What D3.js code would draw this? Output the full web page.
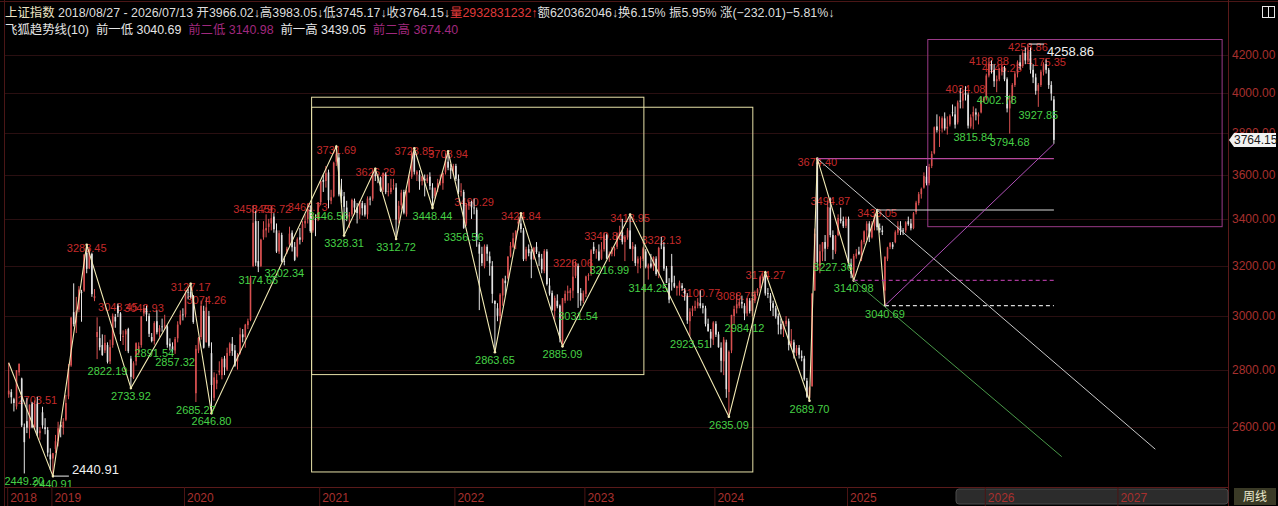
<!DOCTYPE html>
<html>
<head>
<meta charset="utf-8">
<script src="https://cdn.jsdelivr.net/npm/d3@7"></script>
<style>
  html, body { margin: 0; padding: 0; background: #000; }
  svg { display: block; }
  text { font-family: "Liberation Sans", Arial, "Noto Sans CJK SC", sans-serif; }
  .cjk { font-family: "Liberation Sans", "Noto Sans CJK SC", sans-serif; }
</style>
</head>
<body>
<div class="canvas"></div>
<script>
// weekly candles [open, high, low, close], one array per calendar year
const k2018 = [[2712,2825,2700,2725],[2720,2730,2680,2702],[2695,2700,2653,2682],[2670,2798,2660,2797],[2790,2822,2778,2821],
  [2768,2771,2600,2606],[2600,2612,2449.20,2550],[2620,2700,2580,2598],[2595,2677,2562,2676],[2680,2686,2596,2599],
  [2600,2691,2593,2679],[2680,2703.51,2570,2579],[2580,2600,2558,2588],[2650,2669,2595,2606],[2600,2630,2576,2593],
  [2590,2600,2503,2516],[2510,2530,2460,2494]];
const k2019 = [[2497,2515,2440.91,2514],[2528,2574,2515,2553],[2554,2618,2536,2596],[2608,2618,2566,2601],[2597,2630,2575,2618],
  [2625,2710,2620,2682],[2705,2820,2695,2804],[2815,2997,2810,2994],[3015,3129,2960,2969],[2975,3075,2935,3021],
  [3025,3118,3015,3104],[3095,3103,2978,3091],[3100,3250,3095,3247],[3255,3288.45,3170,3188],[3190,3274,3187,3270],
  [3250,3255,3075,3086],[3070,3106,3058,3078],[2920,2995,2838,2939],[2916,2960,2870,2882],[2890,2930,2850,2853],
  [2870,2928,2860,2898],[2890,2900,2822.19,2828],[2830,2910,2820,2882],[2890,3010,2880,3001],[2997,3008,2955,2979],
  [3040,3048.45,2996,3011],[3010,3015,2905,2930],[2920,2945,2890,2924],[2930,2950,2868,2944],[2950,2955,2860,2867],
  [2840,2850,2733.92,2774],[2770,2830,2766,2823],[2830,2900,2815,2897],[2865,2900,2852,2886],[2890,3000,2880,2999],
  [3010,3042.93,3000,3031],[3030,3040,2980,3006],[3000,3010,2920,2932],[2920,2935,2900,2905],[2905,2980,2891.54,2973],
  [2980,3022,2930,2938],[2940,2965,2920,2954],[2960,2990,2940,2958],[2960,3005,2950,2964],[2960,2965,2880,2891],
  [2895,2915,2870,2885],[2885,2900,2862,2871],[2870,2920,2857.32,2912],[2915,2980,2900,2967],[2970,3022,2965,3005],
  [3006,3030,2983,3005]];
const k2020 = [[3006,3098,2995,3092],[3095,3107,3065,3092],[3095,3127.17,3068,3075],[3080,3082,2970,2977],
  [2716,2890,2685.27,2876],[2870,2920,2860,2917],[2920,3060,2910,3040],[3020,3040,2877,2880],[2900,3074.26,2900,3034],
  [3000,3020,2880,2887],[2860,2900,2646.80,2745],[2700,2790,2690,2772],[2750,2785,2730,2763],[2790,2830,2780,2796],
  [2780,2845,2765,2838],[2840,2850,2780,2808],[2800,2880,2795,2860],[2860,2900,2850,2895],[2895,2920,2850,2868],
  [2870,2890,2810,2814],[2830,2860,2800,2852],[2860,2955,2855,2930],[2930,2950,2900,2919],[2920,2970,2880,2967],
  [2965,2990,2950,2980],[2985,3160,2980,3152],[3200,3458.79,3195,3383],[3390,3436,3200,3214],[3220,3391,3174.66,3197],
  [3200,3314,3195,3310],[3320,3390,3310,3354],[3350,3420,3320,3360],[3365,3400,3340,3380],[3380,3456.72,3350,3403],
  [3410,3425,3340,3355],[3350,3380,3254,3260],[3260,3350,3250,3338],[3330,3340,3215,3219],[3220,3240,3202.34,3218],
  [3260,3280,3250,3272],[3290,3366,3280,3336],[3340,3350,3260,3278],[3280,3300,3220,3225],[3240,3320,3235,3312],
  [3320,3360,3290,3310],[3310,3390,3300,3377],[3380,3420,3360,3391],[3400,3465.73,3380,3444],[3440,3460,3340,3347],
  [3350,3420,3340,3394],[3400,3420,3325,3396],[3400,3474,3390,3473]];
const k2021 = [[3474,3570,3460,3570],[3575,3600,3520,3566],[3570,3640,3540,3606],[3610,3623,3446.56,3483],
  [3480,3530,3465,3496],[3500,3660,3495,3655],[3660,3731.69,3640,3696],[3680,3700,3500,3509],[3530,3580,3470,3502],
  [3500,3520,3328.31,3453],[3450,3480,3390,3405],[3410,3430,3360,3418],[3420,3490,3410,3484],[3480,3490,3420,3450],
  [3450,3470,3380,3426],[3420,3480,3400,3474],[3470,3480,3415,3447],[3460,3470,3410,3419],[3420,3500,3400,3490],
  [3490,3500,3460,3486],[3490,3620,3480,3600],[3600,3626.29,3570,3592],[3590,3600,3560,3589],[3585,3590,3520,3525],
  [3530,3610,3520,3607],[3600,3610,3510,3519],[3520,3560,3500,3524],[3520,3580,3510,3539],[3550,3580,3530,3550],
  [3540,3560,3312.72,3397],[3400,3480,3380,3458],[3460,3530,3440,3517],[3520,3530,3420,3427],[3420,3530,3410,3522],
  [3520,3600,3515,3581],[3590,3710,3580,3703],[3700,3723.85,3600,3613],[3600,3620,3570,3613],[3600,3620,3530,3568],
  [3570,3592,3550,3592],[3580,3600,3500,3572],[3570,3600,3560,3583],[3590,3610,3530,3547],[3540,3560,3448.44,3491],
  [3500,3540,3490,3539],[3540,3580,3520,3560],[3560,3600,3550,3564],[3560,3610,3530,3607],[3610,3700,3600,3666],
  [3660,3708.94,3620,3632],[3630,3650,3580,3618],[3620,3650,3600,3640]];
const k2022 = [[3640,3650,3570,3580],[3580,3600,3510,3521],[3520,3560,3500,3523],[3520,3530,3356.56,3361],
  [3380,3470,3370,3462],[3460,3485,3440,3475],[3475,3480,3400,3451],[3450,3490.29,3420,3447],[3440,3450,3280,3309],
  [3290,3300,3023,3251],[3250,3280,3200,3212],[3200,3290,3190,3282],[3280,3290,3220,3251],[3240,3260,3160,3211],
  [3200,3220,3050,3087],[3060,3060,2863.65,3047],[3030,3050,2980,3001],[3000,3090,2970,3084],[3080,3150,3040,3146],
  [3140,3160,3080,3130],[3150,3240,3145,3239],[3240,3300,3235,3284],[3280,3340,3275,3316],[3310,3350,3270,3349],
  [3380,3410,3350,3388],[3380,3424.84,3340,3356],[3350,3360,3220,3228],[3230,3280,3220,3269],[3270,3290,3240,3253],
  [3260,3270,3150,3227],[3230,3280,3225,3276],[3280,3300,3250,3258],[3250,3260,3200,3236],[3230,3250,3170,3186],
  [3180,3270,3170,3262],[3260,3270,3120,3126],[3120,3150,3080,3088],[3090,3100,3020,3024],[3020,3080,2980,3071],
  [3060,3085,3030,3038],[3040,3045,2900,2915],[2900,3070,2885.09,3070],[3060,3100,3050,3087],[3090,3120,3060,3097],
  [3090,3110,3060,3101],[3100,3226.06,3070,3156],[3160,3220,3150,3206],[3200,3210,3031.54,3090],[3090,3110,3040,3060],
  [3060,3100,3050,3089]];
const k2023 = [[3087,3160,3074,3157],[3160,3170,3140,3163],[3170,3270,3160,3265],[3280,3300,3250,3263],
  [3260,3270,3230,3260],[3260,3290,3220,3224],[3230,3300,3225,3268],[3270,3340.85,3260,3328],[3330,3336,3230,3230],
  [3240,3260,3216.99,3250],[3250,3280,3240,3265],[3265,3280,3240,3273],[3280,3340,3270,3327],[3330,3370,3310,3338],
  [3340,3400,3290,3301],[3300,3330,3220,3323],[3320,3360,3310,3350],[3350,3418.95,3270,3272],[3270,3300,3220,3283],
  [3280,3290,3200,3212],[3210,3240,3170,3230],[3230,3240,3190,3231],[3230,3280,3220,3273],[3260,3270,3190,3197],
  [3190,3210,3144.25,3202],[3210,3250,3190,3197],[3200,3240,3180,3237],[3230,3240,3160,3167],[3170,3280,3150,3275],
  [3290,3322.13,3270,3288],[3280,3300,3180,3189],[3190,3200,3130,3131],[3130,3150,3050,3064],[3200,3250,3100,3133],
  [3130,3160,3110,3116],[3110,3120,3080,3117],[3110,3140,3080,3132],[3120,3130,3100,3110],[3100,3110,3060,3088],
  [3080,3090,2970,2983],[2980,3030,2923.51,3017],[3020,3040,3000,3030],[3030,3060,3020,3038],[3040,3070,3030,3054],
  [3050,3100.77,3030,3040],[3040,3050,3010,3032],[3030,3040,2960,2970],[2970,2990,2940,2942],[2940,2950,2880,2914],
  [2910,2980,2890,2975]];
const k2024 = [[2970,2980,2920,2929],[2930,2940,2880,2882],[2880,2900,2790,2832],[2830,2920,2780,2910],
  [2900,2910,2700,2730],[2720,2870,2635.09,2865],[2870,3005,2860,3004],[3000,3040,2970,3027],[3030,3088.75,3010,3046],
  [3040,3070,3030,3054],[3055,3080,3030,3048],[3040,3050,2984.12,3010],[3010,3070,3000,3069],[3060,3070,3010,3019],
  [3020,3070,3000,3065],[3060,3100,3050,3088],[3090,3110,3080,3105],[3110,3160,3100,3154],[3150,3170,3130,3154],
  [3160,3174.27,3080,3089],[3090,3110,3070,3086],[3080,3090,3020,3051],[3050,3060,3000,3032],[3030,3040,2990,2998],
  [3000,3010,2930,2967],[2970,2990,2930,2949],[2950,2980,2920,2971],[2970,3000,2960,2982],[2980,2990,2870,2890],
  [2890,2950,2880,2905],[2900,2910,2840,2862],[2860,2890,2850,2879],[2880,2890,2840,2854],[2850,2870,2830,2842],
  [2840,2850,2760,2765],[2760,2770,2700,2704],[2700,2740,2689.70,2736],[2740,3090,2740,3088],[3100,3358,3100,3336],
  [3670,3674.40,3180,3217],[3200,3290,3170,3261],[3260,3300,3220,3299],[3300,3330,3220,3272],[3280,3480,3270,3452],
  [3450,3494.87,3320,3330],[3330,3350,3227.36,3267],[3260,3330,3250,3326],[3330,3420,3325,3404],[3400,3450,3380,3391],
  [3390,3410,3360,3368],[3370,3410,3360,3400]];
const k2025 = [[3400,3410,3200,3211],[3210,3230,3150,3168],[3160,3250,3140.98,3241],[3240,3270,3230,3252],
  [3260,3280,3245,3250],[3230,3310,3220,3303],[3300,3350,3290,3346],[3350,3390,3310,3379],[3380,3390,3300,3321],
  [3320,3390,3315,3372],[3370,3420,3350,3419],[3420,3439.05,3350,3364],[3360,3380,3340,3351],[3350,3370,3330,3343],
  [3100,3240,3040.69,3238],[3230,3280,3220,3277],[3280,3300,3270,3296],[3290,3300,3270,3280],[3300,3350,3295,3342],
  [3340,3390,3330,3367],[3370,3390,3330,3348],[3350,3360,3330,3347],[3350,3390,3340,3385],[3390,3410,3370,3377],
  [3380,3400,3350,3359],[3360,3430,3355,3424],[3430,3480,3420,3472],[3470,3520,3460,3510],[3510,3540,3490,3534],
  [3540,3610,3535,3593],[3590,3640,3550,3560],[3560,3650,3550,3635],[3640,3710,3630,3697],[3700,3830,3695,3826],
  [3830,3890,3800,3812],[3810,3880,3730,3812],[3820,3880,3800,3871],[3870,3900,3810,3820],[3820,3880,3790,3828],
  [3840,3890,3830,3883],[3900,3940,3880,3897],[3890,3930,3820,3839],[3850,3960,3840,3950],[3960,4025,3920,3954],
  [3960,4010,3920,3997],[4000,4034.08,3960,3990],[3990,4000,3820,3834],[3830,3890,3820,3875],[3880,3930,3815.84,3902],
  [3900,3920,3860,3889],[3880,3900,3840,3890],[3900,3980,3895,3963],[3960,3980,3950,3969]];
const k2026 = [[3970,4100,3960,4090],[4090,4182.88,4080,4150],[4150,4170,4100,4120],[4120,4150,4030,4060],
  [4060,4090,4002.78,4070],[4070,4130,4060,4110],[4110,4145.23,4090,4130],[4130,4140,4060,4070],[4070,4080,3900,3920],
  [3920,3990,3794.68,3960],[3960,4050,3950,4040],[4040,4110,4030,4100],[4100,4170,4080,4160],[4160,4200,4120,4140],
  [4140,4220,4130,4210],[4210,4240,4150,4170],[4170,4258.86,4160,4220],[4220,4240,4100,4120],[4120,4150,4050,4080],
  [4080,4100,3990,4010],[4010,4050,3927.85,4040],[4040,4120,4030,4110],[4110,4160,4090,4150],[4150,4175.35,4100,4120],
  [4120,4130,4020,4040],[4040,4060,3960,3996.16],[3966.02,3983.05,3745.17,3764.15]];

const years = ["2018","2019","2020","2021","2022","2023","2024","2025","2026"];
const yearCandles = [k2018,k2019,k2020,k2021,k2022,k2023,k2024,k2025,k2026];
const weeksLeft2026 = 24;   // empty weeks on the axis before 2027
const nextYear = "2027";

const priceTicks = [2600,2800,3000,3200,3400,3600,3800,4000,4200];

// zigzag pivots [week index, price]
const zigzag = [[0,2825],[17,2440.91],[30,3288.45],[47,2733.92],[70,3127.17],[78,2646.80],[126,3731.69],[129,3328.31],
  [141,3626.29],[149,3312.72],[156,3723.85],[163,3448.44],[169,3708.94],[187,2863.65],[197,3424.84],[213,2885.09],
  [239,3418.95],[277,2635.09],[291,3174.27],[308,2689.70],[311,3674.40],[325,3140.98],[334,3439.05],[337,3040.69]];
// labelled swing highs / lows [week index, price]
const highMarks = [[11,2703.51],[30,3288.45],[42,3048.45],[52,3042.93],[70,3127.17],[76,3074.26],[94,3458.79],
  [101,3456.72],[115,3465.73],[126,3731.69],[141,3626.29],[156,3723.85],[169,3708.94],[179,3490.29],[197,3424.84],
  [217,3226.06],[229,3340.85],[239,3418.95],[251,3322.13],[266,3100.77],[280,3088.75],[291,3174.27],[311,3674.40],
  [316,3494.87],[334,3439.05],[368,4034.08],[377,4182.88],[382,4145.23],[392,4258.86],[399,4175.35]];
const lowMarks = [[6,2449.20],[17,2440.91],[38,2822.19],[47,2733.92],[56,2891.54],[64,2857.32],[72,2685.27],
  [78,2646.80],[96,3174.66],[106,3202.34],[123,3446.56],[129,3328.31],[149,3312.72],[163,3448.44],[175,3356.56],
  [187,2863.65],[213,2885.09],[219,3031.54],[231,3216.99],[246,3144.25],[262,2923.51],[277,2635.09],[283,2984.12],
  [308,2689.70],[317,3227.36],[325,3140.98],[337,3040.69],[371,3815.84],[380,4002.78],[385,3794.68],[396,3927.85]];

// hand drawn boxes and lines, in [week index, price]
const creamBoxes = [[[116.5,3977],[244.3,2782]], [[116.5,3926],[286.2,2454]]];
const pinkBox = [[353.5,4284],[466.7,3366]];
const levels = [
  { name: "前一低", v: 3040.69, from: 337, color: "#d8d8d8", dash: "4,3", hl: false },
  { name: "前二低", v: 3140.98, from: 325, color: "#a8389a", dash: "4,3", hl: true },
  { name: "前一高", v: 3439.05, from: 334, color: "#d8d8d8", dash: null, hl: false },
  { name: "前二高", v: 3674.40, from: 311, color: "#b8489e", dash: null, hl: true }
];
const trendLines = [
  { pts: [[311,3674.40],[441,2527]], color: "#c8c8c8" },
  { pts: [[325,3140.98],[405,2503]], color: "#4a9a4a" },
  { pts: [[337,3040.69],[402,3745.17]], color: "#b050b8" }
];
const volume = 2932831232, amount = 620362046, turnover = 6.15;
const startDate = "2018/08/27", endDate = "2026/07/13";

// ---------- build ----------
const candles = [];
const yearStart = [];
yearCandles.forEach((arr, yi) => {
  yearStart.push({ label: years[yi], i: candles.length });
  arr.forEach(d => candles.push({ o: d[0], h: d[1], l: d[2], c: d[3] }));
});
yearStart.push({ label: nextYear, i: candles.length + weeksLeft2026 });
const lastIdx = candles.length - 1;

const W = 1278, H = 506;
const left = 5, right = 1228, bottom = 487;
const x = d3.scaleLinear().domain([0, 469]).range([8.7, 1228.1]);
const y = d3.scaleLog().domain([2410, 4450]).range([486, 10]);

const svg = d3.select(".canvas").append("svg").attr("width", W).attr("height", H)
  .style("background", "#000");

// frame
svg.append("line").attr("x1", 0).attr("x2", W).attr("y1", 1.5).attr("y2", 1.5).attr("stroke", "#4a1616");
svg.append("line").attr("x1", left - 0.5).attr("x2", left - 0.5).attr("y1", 0).attr("y2", H).attr("stroke", "#4a1616");

// grid
svg.append("g").selectAll("line").data(priceTicks).join("line")
  .attr("x1", left).attr("x2", right)
  .attr("y1", d => Math.round(y(d)) + 0.5).attr("y2", d => Math.round(y(d)) + 0.5)
  .attr("stroke", "#2a0f11");

const plot = svg.append("g");

// red swing-high labels sit behind the bars
plot.append("g").selectAll("text").data(highMarks).join("text")
  .attr("x", d => x(d[0])).attr("y", d => y(d[1]) + 7)
  .attr("text-anchor", "middle").attr("font-size", 11).attr("fill", "#c42a2a")
  .text(d => d[1].toFixed(2));

// candles
const cg = plot.append("g");
cg.selectAll("line").data(candles).join("line")
  .attr("x1", (d, i) => x(i)).attr("x2", (d, i) => x(i))
  .attr("y1", d => y(d.h)).attr("y2", d => y(d.l))
  .attr("stroke", d => d.c >= d.o ? "#d85050" : "#e4e4e4").attr("stroke-width", 1);
cg.selectAll("rect").data(candles).join("rect")
  .attr("x", (d, i) => x(i) - 0.8).attr("width", 1.6)
  .attr("y", d => y(Math.max(d.o, d.c)))
  .attr("height", d => Math.max(0.8, Math.abs(y(d.o) - y(d.c))))
  .attr("fill", d => d.c >= d.o ? "#d85050" : "#e4e4e4");

// cream boxes
plot.append("g").selectAll("rect").data(creamBoxes).join("rect")
  .attr("x", d => x(d[0][0])).attr("y", d => y(d[0][1]))
  .attr("width", d => x(d[1][0]) - x(d[0][0])).attr("height", d => y(d[1][1]) - y(d[0][1]))
  .attr("fill", "none").attr("stroke", "#e6e0a8").attr("stroke-width", 1);

// zigzag
plot.append("path").datum(zigzag)
  .attr("d", d3.line().x(d => x(d[0])).y(d => y(d[1])))
  .attr("fill", "none").attr("stroke", "#f2eab4").attr("stroke-width", 1.1);
plot.append("g").selectAll("circle").data(zigzag.slice(1)).join("circle")
  .attr("cx", d => x(d[0])).attr("cy", d => y(d[1])).attr("r", 1.3).attr("fill", "#f2eab4");

// pink box and levels
plot.append("rect")
  .attr("x", x(pinkBox[0][0])).attr("y", y(pinkBox[0][1]))
  .attr("width", x(pinkBox[1][0]) - x(pinkBox[0][0])).attr("height", y(pinkBox[1][1]) - y(pinkBox[0][1]))
  .attr("fill", "none").attr("stroke", "#9a3a88");
plot.append("g").selectAll("line").data(levels).join("line")
  .attr("x1", d => x(d.from)).attr("x2", x(lastIdx))
  .attr("y1", d => y(d.v)).attr("y2", d => y(d.v))
  .attr("stroke", d => d.color).attr("stroke-width", 1.2)
  .attr("stroke-dasharray", d => d.dash);
plot.append("g").selectAll("path").data(trendLines).join("path")
  .attr("d", d => d3.line().x(p => x(p[0])).y(p => y(p[1]))(d.pts))
  .attr("fill", "none").attr("stroke", d => d.color).attr("stroke-width", 1);

// green swing-low labels
plot.append("g").selectAll("text").data(lowMarks).join("text")
  .attr("x", d => x(d[0])).attr("y", d => y(d[1]) + 12)
  .attr("text-anchor", "middle").attr("font-size", 11).attr("fill", "#46d046")
  .text(d => d[1].toFixed(2));

// visible min / max markers
const lo = d3.least(candles.map((d, i) => [i, d.l]), d => d[1]);
const hi = d3.greatest(candles.map((d, i) => [i, d.h]), d => d[1]);
[[lo, -2], [hi, 12]].forEach(([m, dy]) => {
  plot.append("line").attr("x1", x(m[0]) + 1).attr("x2", x(m[0]) + 16)
    .attr("y1", y(m[1])).attr("y2", y(m[1])).attr("stroke", "#f0f0f0");
  plot.append("text").attr("x", x(m[0]) + 19).attr("y", y(m[1]) + dy)
    .attr("font-size", 13).attr("fill", "#f0f0f0").text(m[1].toFixed(2));
});

// right price axis
const yAxis = svg.append("g").attr("transform", `translate(${right},0)`)
  .call(d3.axisRight(y).tickValues(priceTicks).tickFormat(d3.format(".2f")).tickSize(0).tickPadding(4));
yAxis.select(".domain").attr("stroke", "#5a1a1a").attr("d", `M0.5,0V${H}`);
yAxis.selectAll("text").attr("fill", "#a8302e").attr("font-size", 12)
  .attr("font-family", "'Liberation Sans', Arial, sans-serif");

// last price tag
const lastC = candles[lastIdx];
const ty = y(lastC.c);
svg.append("path")
  .attr("d", `M${right + 1},${ty} L${right + 6},${ty - 7} H${W - 2} V${ty + 7} H${right + 6} Z`)
  .attr("fill", "#f2f2f2");
svg.append("text").attr("x", right + 6).attr("y", ty + 4.5).attr("font-size", 12)
  .attr("fill", "#1a1a1a").text(lastC.c.toFixed(2));

// bottom time axis
svg.append("rect").attr("x", 956).attr("y", bottom + 2).attr("width", right - 956).attr("height", 15)
  .attr("rx", 3).attr("fill", "#2c2c2c").attr("stroke", "#4a4a4a");
const xAxis = svg.append("g").attr("transform", `translate(0,${bottom})`)
  .call(d3.axisBottom(x).tickValues(yearStart.map(d => d.i))
    .tickFormat((d, k) => yearStart[k].label).tickSize(H - bottom).tickSizeOuter(0));
xAxis.select(".domain").attr("stroke", "#5a1a1a").attr("d", `M${left},0.5H${right}`);
xAxis.selectAll(".tick line").attr("stroke", "#4a1414").attr("transform", "translate(-1.5,0)");
xAxis.selectAll(".tick text").attr("fill", "#a8302e").attr("font-size", 12)
  .attr("text-anchor", "start").attr("x", 1).attr("y", 6).attr("dy", "0.71em")
  .attr("font-family", "'Liberation Sans', Arial, sans-serif");

// 周线 button
svg.append("rect").attr("x", right + 6).attr("y", bottom + 1).attr("width", 42).attr("height", 17)
  .attr("fill", "#3a3a26");
svg.append("text").attr("class", "cjk").attr("x", right + 27).attr("y", bottom + 14)
  .attr("text-anchor", "middle").attr("font-size", 12).attr("fill", "#ecebd0").text("周线");

// window icon
svg.append("rect").attr("x", 1262.5).attr("y", 6.5).attr("width", 12).attr("height", 11)
  .attr("fill", "none").attr("stroke", "#e8e8e8");
svg.append("line").attr("x1", 1268.5).attr("x2", 1268.5).attr("y1", 6.5).attr("y2", 17.5).attr("stroke", "#e8e8e8");

// header lines
const prev = candles[lastIdx - 1];
const chg = lastC.c - prev.c;
const f2 = d3.format(".2f");
const header1 = [
  ["上证指数 ", "#ece4c4"],
  [`${startDate} - ${endDate} `, "#dedede"],
  [`开${f2(lastC.o)}↓高${f2(lastC.h)}↓低${f2(lastC.l)}↓收${f2(lastC.c)}↓`, "#dedede"],
  [`量${volume}↑`, "#e03a3a"],
  [`额${amount}↓换${f2(turnover)}% 振${f2((lastC.h - lastC.l) / prev.c * 100)}% 涨(${f2(chg)})${f2(chg / prev.c * 100)}%↓`, "#dedede"]
];
const header2 = [["飞狐趋势线(10)  ", "#e6e6e6"]].concat(
  levels.map(d => [`${d.name} ${f2(d.v)}  `, d.hl ? "#a0287e" : "#e6e6e6"]));

[[header1, 16.5, 12.4], [header2, 33.5, 12.4]].forEach(([segs, by, fs]) => {
  const t = svg.append("text").attr("class", "cjk").attr("x", 5).attr("y", by)
    .attr("font-size", fs).attr("xml:space", "preserve").style("white-space", "pre");
  t.selectAll("tspan").data(segs).join("tspan").attr("fill", d => d[1]).text(d => d[0]);
});
</script>
</body>
</html>
